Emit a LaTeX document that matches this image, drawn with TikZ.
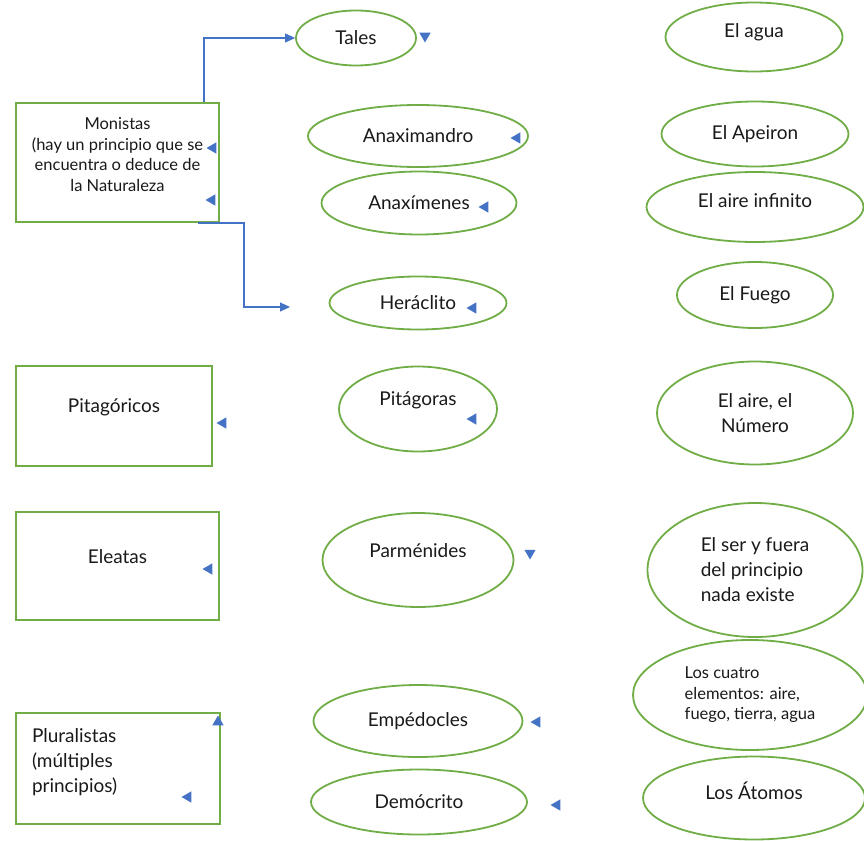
\documentclass[tikz,border=0pt]{standalone}
\usepackage{fontspec}
\setmainfont{Lato}
\usetikzlibrary{shapes.geometric,arrows.meta}
\definecolor{boxgreen}{HTML}{70AD47}
\definecolor{linkblue}{HTML}{4472C4}
\newcommand{\bigtext}{\fontsize{19}{25}\selectfont}
\newcommand{\smalltext}{\fontsize{16.5}{20.5}\selectfont}
\begin{document}
\begin{tikzpicture}[x=1pt, y=-1pt,
  every node/.style={text=black!90, font=\bigtext},
  box/.style={draw=boxgreen, line width=2pt, align=center, inner sep=0pt},
  oval/.style={ellipse, draw=boxgreen, line width=1.8pt, align=center, inner sep=0pt},
  tipmark/.style={regular polygon, regular polygon sides=3, fill=linkblue, inner sep=0pt, minimum size=13pt, shape border rotate=#1},
  link/.style={draw=linkblue, line width=1.1pt, -{Triangle[length=10pt,width=9pt]}},
]
\useasboundingbox (0,0) rectangle (864,840);
% Schools
\node[box, minimum width=203pt, minimum height=119pt, font=\smalltext, text depth=16pt] (mon) at (117.5,162.5) {Monistas\\(hay un principio que se\\encuentra o deduce de\\la Naturaleza};
\node[box, minimum width=196pt, minimum height=100pt, text depth=20pt] (pig) at (114,416) {Pitagóricos};
\node[box, minimum width=203pt, minimum height=108pt, text depth=20pt] (ele) at (117.5,566) {Eleatas};
\node[box, minimum width=204pt, minimum height=111pt, text width=172pt, align=left, text depth=67pt] (plu) at (118,768.5) {Pluralistas\\(múltiples\\principios)};
% Philosophers
\node[oval, minimum width=120pt, minimum height=55pt] (tal) at (356,38) {Tales};
\node[oval, minimum width=220pt, minimum height=62pt] (anx) at (418,136) {Anaximandro};
\node[oval, minimum width=195pt, minimum height=63pt] (anm) at (419,203) {Anaxímenes};
\node[oval, minimum width=177pt, minimum height=53pt] (her) at (418,303) {Heráclito};
\node[oval, minimum width=158pt, minimum height=85pt, text depth=20pt] (pit) at (418,409) {Pitágoras};
\node[oval, minimum width=191pt, minimum height=94pt, text depth=20pt] (par) at (418,560) {Parménides};
\node[oval, minimum width=209pt, minimum height=72pt] (emp) at (418,721) {Empédocles};
\node[oval, minimum width=216pt, minimum height=65pt] (dem) at (419,802) {Demócrito};
% Principles
\node[oval, minimum width=177pt, minimum height=69pt, text depth=12pt] (agu) at (754,37) {El agua};
\node[oval, minimum width=187pt, minimum height=65pt] (ape) at (755,134) {El Apeiron};
\node[oval, minimum width=217pt, minimum height=70pt, text depth=12pt] (inf) at (755,207) {El aire infinito};
\node[oval, minimum width=156pt, minimum height=66pt] (fue) at (755,295) {El Fuego};
\node[oval, minimum width=196pt, minimum height=103pt] (num) at (755,413) {El aire, el\\Número};
\node[oval, minimum width=215pt, minimum height=134pt, align=left] (ser) at (755,570) {El ser y fuera\\del principio\\nada existe};
\node[oval, minimum width=234pt, minimum height=110pt, align=left, font=\smalltext] (cua) at (750,695) {Los cuatro\\elementos: aire,\\fuego, tierra, agua};
\node[oval, minimum width=222pt, minimum height=83pt, text depth=14pt] (ato) at (754,798) {Los Átomos};
% Loose arrow heads
\node[tipmark=180] (m1) at (425,36) {};
\node[tipmark=90] (m2) at (213,148) {};
\node[tipmark=90] (m3) at (212,200) {};
\node[tipmark=90] (m4) at (517,138) {};
\node[tipmark=90] (m5) at (485,207) {};
\node[tipmark=90] (m6) at (473,308) {};
\node[tipmark=90] (m7) at (223,423) {};
\node[tipmark=90] (m8) at (473,419) {};
\node[tipmark=180] (m9) at (530,553) {};
\node[tipmark=90] (m10) at (209,569) {};
\node[tipmark=0] (m11) at (218,722) {};
\node[tipmark=90] (m12) at (188,797) {};
\node[tipmark=90] (m13) at (537,722) {};
\node[tipmark=90] (m14) at (557,805) {};
% Connectors
\coordinate (herin) at (290,307);
\draw[link] ([xshift=-16pt]mon.north east) |- (tal.west);
\draw[link] ([xshift=-22pt]mon.south east) -- ([xshift=24pt]mon.south east) |- (herin);
\end{tikzpicture}
\end{document}
